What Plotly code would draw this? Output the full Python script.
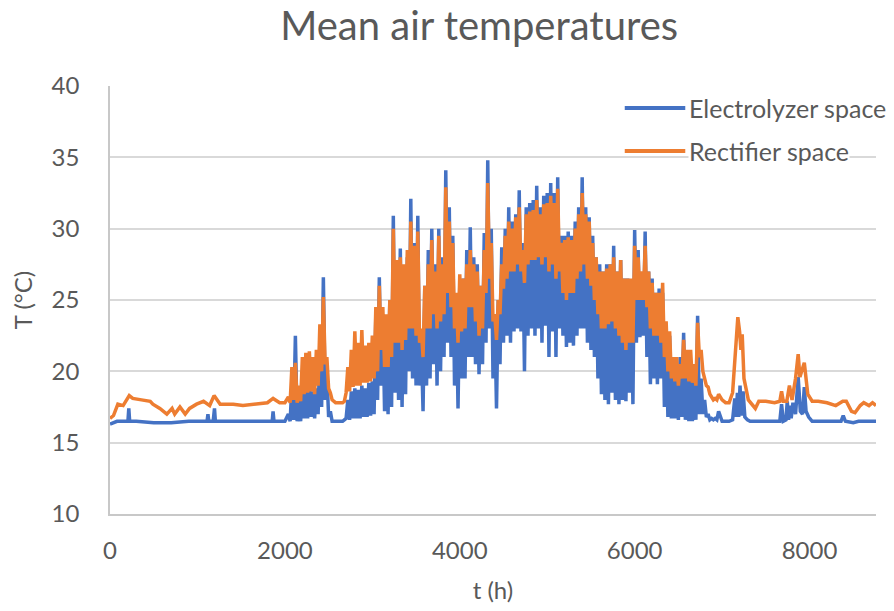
import plotly.graph_objects as go

# ---- Electrolyzer space: quiet start of the year (hours, °C) ----
elec_head_hours = [0, 40, 80, 150, 205, 215, 225, 300, 500, 700, 900, 1050,
                   1110, 1120, 1130, 1180, 1195, 1205, 1220, 1400, 1600, 1800,
                   1855, 1865, 1875, 1950, 2000]
elec_head_temp = [16.3, 16.4, 16.5, 16.5, 16.5, 17.4, 16.5, 16.5, 16.4, 16.4,
                  16.5, 16.5, 16.5, 17.0, 16.5, 16.5, 17.4, 16.5, 16.5, 16.5,
                  16.5, 16.5, 16.5, 17.2, 16.5, 16.5, 16.5]

# ---- Rectifier space: quiet start of the year ----
rect_head_hours = [0, 40, 90, 150, 220, 260, 360, 460, 490, 570, 650, 710, 740,
                   800, 860, 910, 990, 1070, 1140, 1190, 1260, 1410, 1520, 1680,
                   1800, 1865, 1940, 2000]
rect_head_temp = [16.7, 16.9, 17.7, 17.6, 18.3, 18.1, 18.0, 17.9, 17.7, 17.4,
                  17.0, 17.4, 17.0, 17.5, 17.0, 17.4, 17.7, 17.9, 17.6, 18.3,
                  17.7, 17.7, 17.6, 17.7, 17.8, 18.1, 17.8, 17.8]

# ---- Warm season, shared sampling every 20 h (day/night swings) ----
warm_hours = [
    2040, 2060, 2080, 2100, 2120, 2140, 2160, 2180, 2200, 2220,
    2240, 2260, 2280, 2300, 2320, 2340, 2360, 2380, 2400, 2420,
    2440, 2460, 2480, 2500, 2520, 2540, 2560, 2580, 2600, 2620,
    2640, 2660, 2680, 2700, 2720, 2740, 2760, 2780, 2800, 2820,
    2840, 2860, 2880, 2900, 2920, 2940, 2960, 2980, 3000, 3020,
    3040, 3060, 3080, 3100, 3120, 3140, 3160, 3180, 3200, 3220,
    3240, 3260, 3280, 3300, 3320, 3340, 3360, 3380, 3400, 3420,
    3440, 3460, 3480, 3500, 3520, 3540, 3560, 3580, 3600, 3620,
    3640, 3660, 3680, 3700, 3720, 3740, 3760, 3780, 3800, 3820,
    3840, 3860, 3880, 3900, 3920, 3940, 3960, 3980, 4000, 4020,
    4040, 4060, 4080, 4100, 4120, 4140, 4160, 4180, 4200, 4220,
    4240, 4260, 4280, 4300, 4320, 4340, 4360, 4380, 4400, 4420,
    4440, 4460, 4480, 4500, 4520, 4540, 4560, 4580, 4600, 4620,
    4640, 4660, 4680, 4700, 4720, 4740, 4760, 4780, 4800, 4820,
    4840, 4860, 4880, 4900, 4920, 4940, 4960, 4980, 5000, 5020,
    5040, 5060, 5080, 5100, 5120, 5140, 5160, 5180, 5200, 5220,
    5240, 5260, 5280, 5300, 5320, 5340, 5360, 5380, 5400, 5420,
    5440, 5460, 5480, 5500, 5520, 5540, 5560, 5580, 5600, 5620,
    5640, 5660, 5680, 5700, 5720, 5740, 5760, 5780, 5800, 5820,
    5840, 5860, 5880, 5900, 5920, 5940, 5960, 5980, 6000, 6020,
    6040, 6060, 6080, 6100, 6120, 6140, 6160, 6180, 6200, 6220,
    6240, 6260, 6280, 6300, 6320, 6340, 6360, 6380, 6400, 6420,
    6440, 6460, 6480, 6500, 6520, 6540, 6560, 6580, 6600, 6620,
    6640, 6660, 6680, 6700, 6720, 6740, 6760, 6780, 6800, 6820,
    6840, 6860, 6880, 6900, 6920, 6940, 6960,
]

elec_warm_temp = [
    17.0, 16.5, 19.0, 16.6, 22.5, 16.5, 18.0, 16.5, 18.6, 16.7,
    18.8, 16.7, 18.9, 16.8, 18.6, 16.7, 18.8, 17.0, 21.5, 17.5,
    26.6, 18.0, 20.0, 16.8, 17.2, 16.5, 16.5, 16.5, 16.5, 16.5,
    16.5, 16.5, 16.6, 16.7, 18.0, 16.6, 18.6, 16.7, 18.8, 16.7,
    18.7, 16.7, 19.0, 16.8, 18.8, 16.8, 19.2, 16.9, 19.3, 17.0,
    24.0, 18.0, 26.6, 19.0, 24.0, 17.2, 23.5, 17.0, 25.0, 17.5,
    30.9, 18.5, 27.5, 18.0, 28.6, 17.5, 27.0, 18.4, 28.0, 20.0,
    32.1, 19.5, 29.0, 19.0, 30.9, 19.0, 22.0, 17.2, 26.0, 19.0,
    28.5, 19.5, 30.0, 20.5, 27.5, 19.0, 30.0, 20.0, 28.0, 21.0,
    34.1, 22.0, 31.5, 21.0, 29.5, 19.0, 25.0, 17.4, 26.0, 19.5,
    26.5, 19.5, 28.5, 21.0, 30.1, 21.0, 28.0, 20.5, 27.5, 19.8,
    26.0, 20.5, 29.7, 22.0, 34.8, 23.0, 30.0, 19.5, 24.0, 17.4,
    25.0, 20.5, 28.7, 22.0, 30.0, 22.5, 31.5, 22.0, 30.5, 22.8,
    31.0, 23.0, 32.7, 22.8, 29.0, 20.0, 31.5, 22.5, 31.8, 23.0,
    32.0, 22.5, 33.0, 23.0, 31.5, 22.0, 32.3, 23.2, 32.5, 21.0,
    33.2, 22.8, 32.5, 21.0, 33.6, 23.0, 29.5, 22.5, 29.5, 21.7,
    29.8, 22.0, 29.5, 21.8, 30.5, 22.5, 31.5, 23.0, 33.6, 23.0,
    31.5, 22.0, 30.8, 21.5, 29.5, 21.0, 28.0, 19.5, 27.5, 18.4,
    27.0, 18.0, 27.5, 17.7, 27.5, 18.5, 28.8, 18.0, 27.0, 17.7,
    27.8, 18.0, 26.5, 17.9, 26.5, 18.5, 26.0, 17.7, 29.9, 22.0,
    28.5, 22.4, 26.0, 22.5, 29.8, 21.0, 27.0, 19.1, 26.5, 19.5,
    25.5, 19.1, 25.8, 19.5, 25.5, 17.5, 23.0, 16.8, 22.5, 16.7,
    20.5, 16.7, 20.5, 16.6, 21.0, 16.8, 22.7, 16.6, 20.5, 16.5,
    20.0, 16.5, 19.5, 16.6, 23.9, 17.0, 19.5, 17.0, 18.0, 16.8,
    17.0, 16.6, 16.7, 16.6, 16.7, 16.6, 17.2,
]

rect_warm_temp = [
    18.2, 17.8, 20.3, 18.0, 20.6, 17.8, 19.0, 17.9, 21.0, 18.4,
    21.3, 18.5, 21.4, 18.6, 21.0, 18.4, 21.5, 19.0, 23.3, 20.0,
    25.2, 20.5, 21.0, 18.8, 18.5, 18.0, 17.9, 17.8, 17.8, 17.8,
    17.8, 17.8, 17.9, 18.5, 20.3, 18.6, 21.5, 18.9, 22.8, 19.0,
    22.0, 19.0, 22.9, 19.2, 21.8, 19.2, 22.0, 19.3, 22.5, 19.5,
    24.5, 20.0, 26.0, 21.5, 24.5, 20.3, 24.0, 20.3, 25.0, 21.0,
    30.0, 22.0, 27.8, 22.0, 28.0, 21.5, 27.5, 22.2, 28.5, 23.0,
    30.5, 23.0, 28.8, 22.5, 29.8, 22.0, 23.0, 21.0, 26.0, 23.0,
    27.5, 23.0, 29.2, 24.0, 27.0, 23.0, 29.5, 23.5, 27.5, 24.0,
    32.9, 25.5, 30.5, 24.5, 29.0, 23.0, 25.5, 22.0, 26.8, 22.8,
    26.5, 23.0, 27.5, 24.5, 28.5, 24.5, 27.5, 23.5, 27.0, 22.5,
    26.0, 23.0, 28.5, 25.5, 33.2, 26.5, 29.0, 23.5, 24.0, 22.2,
    25.0, 24.0, 27.5, 25.8, 29.5, 26.5, 30.5, 27.0, 30.0, 27.0,
    30.8, 27.5, 31.5, 27.0, 28.5, 26.2, 31.0, 27.5, 31.2, 27.8,
    31.3, 27.8, 32.0, 28.0, 31.0, 27.5, 31.7, 28.0, 31.8, 27.0,
    32.3, 27.5, 31.8, 26.5, 32.8, 27.0, 29.0, 25.5, 29.2, 25.0,
    29.4, 25.5, 29.2, 25.5, 30.0, 26.5, 31.0, 27.0, 32.5, 27.5,
    31.0, 26.5, 30.5, 26.0, 29.0, 25.0, 28.0, 24.0, 27.0, 23.0,
    27.0, 23.0, 27.2, 23.3, 27.5, 23.5, 28.0, 23.0, 27.0, 22.5,
    27.8, 22.0, 26.5, 21.5, 26.5, 22.0, 26.5, 22.0, 28.8, 25.0,
    28.0, 25.0, 27.0, 25.0, 28.8, 24.5, 27.0, 23.0, 26.2, 22.5,
    25.5, 22.5, 25.5, 22.0, 26.2, 21.0, 23.5, 20.0, 22.8, 19.5,
    21.0, 19.3, 21.0, 19.0, 20.5, 19.5, 22.2, 19.5, 21.5, 19.3,
    21.5, 19.2, 20.5, 19.0, 23.4, 21.0, 21.5, 20.0, 19.5, 19.0,
    18.9, 18.4, 18.2, 18.0, 18.1, 18.0, 18.4,
]

# ---- Autumn tail ----
elec_tail_hours = [7000, 7080, 7120, 7145, 7160, 7175, 7190, 7205, 7220, 7240,
                   7260, 7290, 7320, 7450, 7600, 7660, 7680, 7700, 7730, 7745,
                   7760, 7775, 7790, 7810, 7840, 7870, 7895, 7920, 7940, 7960,
                   7990, 8030, 8150, 8300, 8360, 8385, 8410, 8500, 8560, 8660,
                   8760]
elec_tail_temp = [16.5, 16.5, 16.6, 18.1, 16.8, 18.5, 16.8, 19.0, 16.9, 18.6,
                  16.8, 16.6, 16.5, 16.5, 16.5, 16.5, 17.7, 16.5, 16.6, 17.9,
                  16.6, 17.6, 16.7, 17.8, 17.0, 19.6, 17.2, 17.0, 18.9, 17.2,
                  16.8, 16.5, 16.5, 16.5, 16.5, 16.9, 16.5, 16.4, 16.5, 16.5,
                  16.5]

rect_tail_hours = [7000, 7040, 7080, 7120, 7150, 7180, 7200, 7215, 7230, 7250,
                   7300, 7340, 7380, 7420, 7500, 7600, 7660, 7680, 7700, 7740,
                   7770, 7800, 7840, 7870, 7890, 7940, 7980, 8030, 8100, 8200,
                   8300, 8380, 8420, 8480, 8520, 8580, 8620, 8680, 8720, 8760]
rect_tail_temp = [18.0, 17.8, 17.8, 18.5, 21.0, 23.8, 22.8, 21.5, 22.6, 19.5,
                  18.0, 17.7, 17.4, 17.9, 17.9, 17.8, 17.9, 18.6, 17.9, 17.9,
                  19.0, 18.0, 19.5, 21.2, 19.6, 20.6, 18.4, 17.9, 17.9, 17.8,
                  17.6, 17.9, 17.9, 17.2, 17.1, 17.6, 17.8, 17.6, 17.8, 17.6]

elec_hours = elec_head_hours + warm_hours + elec_tail_hours
elec_temp = elec_head_temp + elec_warm_temp + elec_tail_temp
rect_hours = rect_head_hours + warm_hours + rect_tail_hours
rect_temp = rect_head_temp + rect_warm_temp + rect_tail_temp

series_names = ["Electrolyzer space", "Rectifier space"]
series_colors = ["#4472C4", "#ED7D31"]
x_ticks = [0, 2000, 4000, 6000, 8000]
y_ticks = [10, 15, 20, 25, 30, 35, 40]

FONT = "Lato, 'Open Sans', sans-serif"
GREY = "#595959"

fig = go.Figure()
for hrs, temps, name, color in [(elec_hours, elec_temp, series_names[0], series_colors[0]),
                                (rect_hours, rect_temp, series_names[1], series_colors[1])]:
    fig.add_trace(go.Scatter(x=hrs, y=temps, mode="lines", name=name,
                             line=dict(color=color, width=3.5),
                             showlegend=False))

# Legend drawn as line swatches with labels in the upper-right corner
legend_rows = [0.9486, 0.848]
for name, color, ypos in zip(series_names, series_colors, legend_rows):
    fig.add_shape(type="line", xref="paper", yref="paper",
                  x0=0.672, x1=0.751, y0=ypos, y1=ypos,
                  line=dict(color=color, width=4))
    fig.add_annotation(text=name, xref="paper", yref="paper",
                       x=0.755, y=ypos, xanchor="left", yanchor="middle",
                       showarrow=False, font=dict(size=25, color=GREY, family=FONT),
                       bgcolor="white", borderpad=0)

fig.update_layout(
    width=894, height=611,
    margin=dict(l=110, r=18, t=86, b=97),
    paper_bgcolor="white", plot_bgcolor="white",
    font=dict(family=FONT, color=GREY),
    title=dict(text="Mean air temperatures", x=0.536, xanchor="center",
               y=0.958, yanchor="middle", yref="container",
               font=dict(size=40, color=GREY, family=FONT)),
)
fig.update_xaxes(
    range=[0, 8760], tickvals=x_ticks, ticktext=[str(v) for v in x_ticks],
    showgrid=False, zeroline=False,
    showline=True, linecolor="#c8c8c8", linewidth=1.5,
    ticks="outside", ticklen=0, ticklabelstandoff=14,
    tickfont=dict(size=24, color=GREY, family=FONT),
    title=dict(text="t (h)", standoff=20, font=dict(size=24, color=GREY, family=FONT)),
    automargin=False,
)
fig.update_yaxes(
    range=[10, 40], tickvals=y_ticks, ticktext=[str(v) for v in y_ticks],
    showgrid=True, gridcolor="#d9d9d9", gridwidth=1.5, zeroline=False,
    showline=True, linecolor="#c8c8c8", linewidth=1.5,
    ticks="outside", ticklen=0, ticklabelstandoff=24,
    tickfont=dict(size=24, color=GREY, family=FONT),
    title=dict(text="T (°C)", standoff=12, font=dict(size=24, color=GREY, family=FONT)),
    automargin=False,
)

fig.write_html("out.html")
